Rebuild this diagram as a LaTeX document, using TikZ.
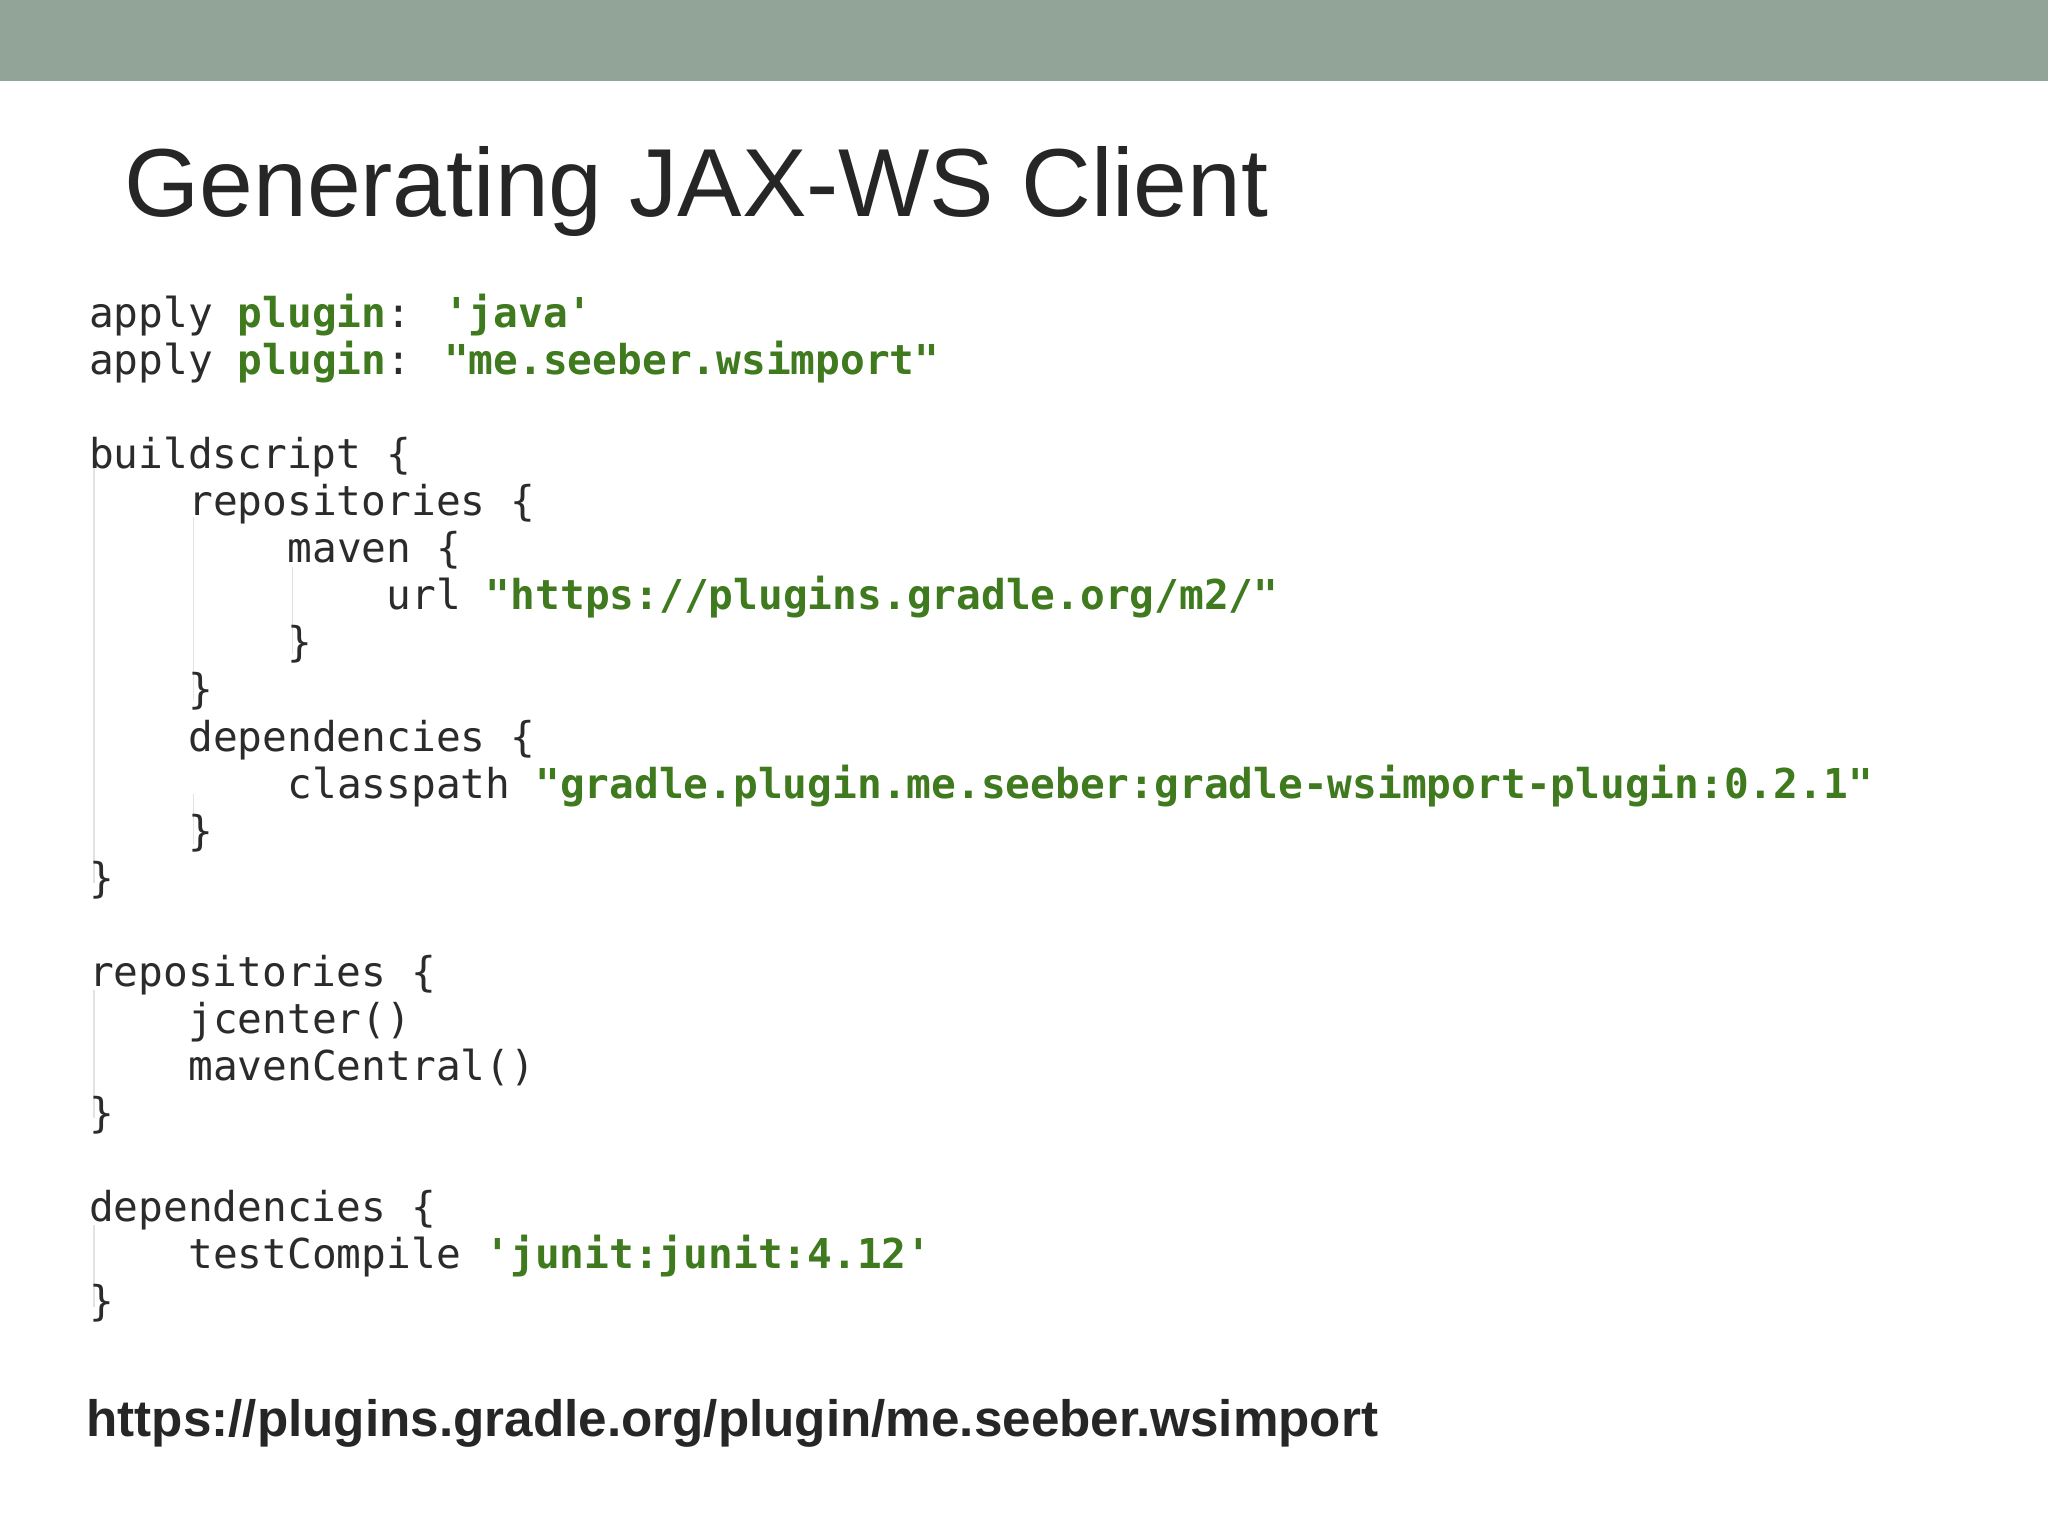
\documentclass[tikz,border=0pt]{standalone}
\usepackage{fontspec}
\setmainfont{Liberation Sans}
\newfontfamily\codefont{DejaVu Sans Mono}
\definecolor{barcol}{HTML}{92A398}
\definecolor{txt}{HTML}{262626}
\definecolor{codetxt}{HTML}{2B2B2B}
\definecolor{strg}{HTML}{3F7A1E}
\definecolor{guide}{HTML}{E2E2E2}
\newcommand{\gs}[1]{\textcolor{strg}{\bfseries #1}}
\tikzset{code/.style={anchor=base west,inner sep=0pt,font=\codefont\fontsize{31.5}{36}\selectfont,text=codetxt},
 guideline/.style={draw=guide,line width=1.2pt}}
\begin{document}
\begin{tikzpicture}[x=1pt,y=1pt]
\useasboundingbox (0,0) rectangle (1568,1176);
\fill[white] (0,0) rectangle (1568,1176);
\fill[barcol] (0,1114) rectangle (1568,1176);
\node[anchor=base west,inner sep=0pt,text=txt,font=\fontsize{74}{84}\selectfont] (title) at (95,1010) {Generating JAX-WS Client};
% guides
\draw[guideline] (72,820) -- (72,500);
\draw[guideline] (148,780) -- (148,640);
\draw[guideline] (224,742) -- (224,675);
\draw[guideline] (148,568) -- (148,530);
\draw[guideline] (72,418) -- (72,320);
\draw[guideline] (72,238) -- (72,175);
\foreach \n/\x/\y/\t in {
 l1/68/241/{apply \gs{plugin}: \gs{'java'}},
 l2/68/277/{apply \gs{plugin}: \gs{"me.seeber.wsimport"}},
 l3/68/349/{buildscript \{},
 l4/144/385/{repositories \{},
 l5/220/421/{maven \{},
 l6/296/457/{url \gs{"https://plugins.gradle.org/m2/"}},
 l7/220/493/{\}},
 l8/144/529/{\}},
 l9/144/565/{dependencies \{},
 l10/220/601/{classpath \gs{"gradle.plugin.me.seeber:gradle-wsimport-plugin:0.2.1"}},
 l11/144/637/{\}},
 l12/68/673/{\}},
 l13/68/745/{repositories \{},
 l14/144/781/{jcenter()},
 l15/144/817/{mavenCentral()},
 l16/68/853/{\}},
 l17/68/925/{dependencies \{},
 l18/144/961/{testCompile \gs{'junit:junit:4.12'}},
 l19/68/997/{\}}}
 {\node[code] (\n) at (\x,1176-\y-10) {\t};}
\node[anchor=base west,inner sep=0pt,text=txt,font=\bfseries\fontsize{39.2}{42}\selectfont] (url) at (66,1176-1100) {https://plugins.gradle.org/plugin/me.seeber.wsimport};
\end{tikzpicture}
\end{document}
